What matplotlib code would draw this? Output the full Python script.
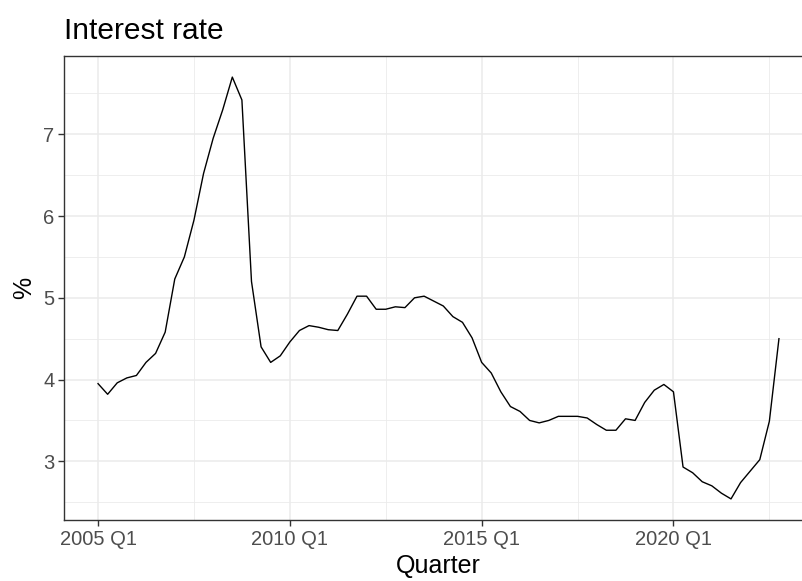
import numpy as np
import matplotlib
matplotlib.use("Agg")
import matplotlib.pyplot as plt
from matplotlib.ticker import FixedLocator

# Quarterly interest rate, 2005 Q1 - 2022 Q4
start_year = 2005
rate = [3.95, 3.82, 3.96, 4.02, 4.05, 4.21, 4.32, 4.58,
        5.23, 5.50, 5.95, 6.52, 6.95, 7.30, 7.70, 7.42,
        5.20, 4.40, 4.21, 4.29, 4.46, 4.60, 4.66, 4.64,
        4.61, 4.60, 4.80, 5.02, 5.02, 4.86, 4.86, 4.89,
        4.88, 5.00, 5.02, 4.96, 4.90, 4.77, 4.70, 4.51,
        4.21, 4.08, 3.85, 3.67, 3.61, 3.50, 3.47, 3.50,
        3.55, 3.55, 3.55, 3.53, 3.45, 3.38, 3.38, 3.52,
        3.50, 3.72, 3.87, 3.94, 3.85, 2.93, 2.86, 2.75,
        2.70, 2.61, 2.54, 2.74, 2.88, 3.02, 3.49, 4.50]
tick_years = [2005, 2010, 2015, 2020]
tick_labels = ["2005 Q1", "2010 Q1", "2015 Q1", "2020 Q1"]

x = start_year + np.arange(len(rate)) / 4

plt.rcParams['font.family'] = ['Liberation Sans', 'DejaVu Sans']

fig = plt.figure(figsize=(8.03, 5.81), dpi=100)
# the panel runs a little past the right edge of the picture, as in the original
ax = fig.add_axes([64 / 803, 1 - 520 / 581, (813 - 64) / 803, (520 - 56) / 581])

ax.plot(x, rate, color='black', lw=1.0)

span = x[-1] - x[0]
ax.set_xlim(x[0] - 0.05 * span, x[-1] + 0.05 * span)
yr = max(rate) - min(rate)
ax.set_ylim(min(rate) - 0.05 * yr, max(rate) + 0.05 * yr)

ax.set_xticks(tick_years)
ax.set_xticklabels(tick_labels)
ax.xaxis.set_minor_locator(FixedLocator([2002.5, 2007.5, 2012.5, 2017.5, 2022.5]))
ax.set_yticks([3, 4, 5, 6, 7])
ax.yaxis.set_minor_locator(FixedLocator([2.5, 3.5, 4.5, 5.5, 6.5, 7.5]))

ax.grid(True, which='major', color='#EBEBEB', lw=1.1)
ax.grid(True, which='minor', color='#EBEBEB', lw=0.6)
ax.set_axisbelow(True)

for s in ax.spines.values():
    s.set_color('#333333')
    s.set_linewidth(1.0)

ax.tick_params(which='major', length=4, width=1.0, color='#333333',
               labelcolor='#4D4D4D', labelsize=14.5, pad=3)
ax.tick_params(which='minor', length=0)

ax.set_xlabel('Quarter', fontsize=18, color='black', labelpad=4)
ax.set_ylabel('%', fontsize=18, color='black', labelpad=5)
ax.set_title('Interest rate', fontsize=21.5, loc='left', pad=12)

fig.savefig('out.png', dpi=100)
